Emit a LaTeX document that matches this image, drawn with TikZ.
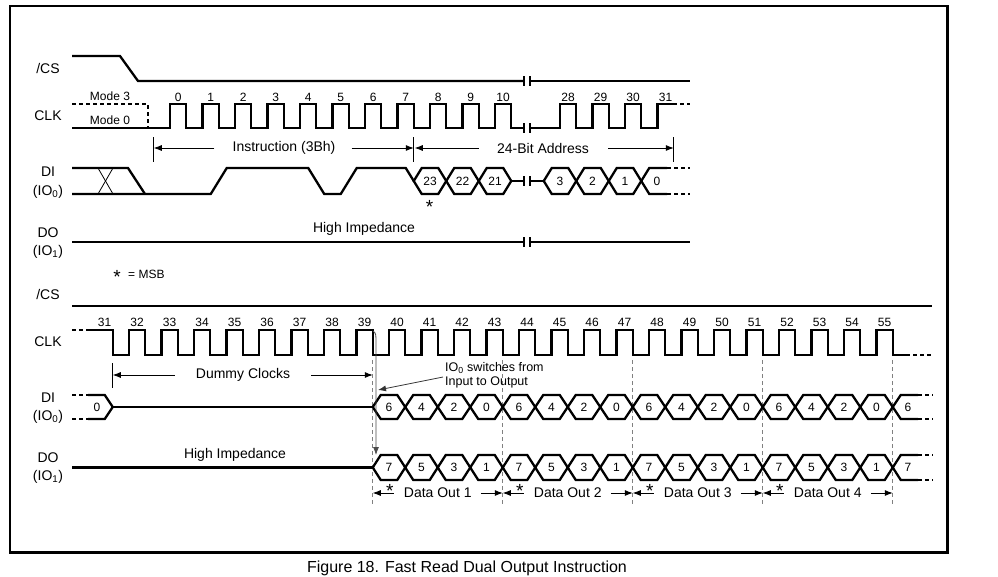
\documentclass[tikz,border=0pt]{standalone}
\usepackage{fontspec}
\setmainfont{Liberation Sans}
\usetikzlibrary{arrows.meta,calc}
\begin{document}
\begin{tikzpicture}[x=1pt,y=-1pt,
  sig/.style={line width=2.3pt},
  sigdash/.style={line width=2.3pt,dash pattern=on 4pt off 3pt},
  thinline/.style={line width=0.8pt},
  brk/.style={line width=1.1pt},
  tip/.style={-{Latex[length=8pt,width=6pt]}},
  guide/.style={line width=0.8pt,gray,dash pattern=on 4pt off 3pt},
  lbl/.style={inner sep=0pt,font=\fontsize{14}{16}\selectfont},
  num/.style={inner sep=0pt,font=\fontsize{12}{14}\selectfont},
  star/.style={inner sep=0pt,font=\fontsize{19}{20}\selectfont},
]
\useasboundingbox (0,0) rectangle (998,576);
\fill[white] (0,0) rectangle (998,576);
% frame
\draw[line width=2pt] (9.5,6) rectangle (947.5,552);
\draw[line width=3pt] (947.5,5) -- (947.5,552.5) -- (8.5,552.5);
\node[inner sep=0pt,font=\fontsize{16}{18}\selectfont] (cap) at (467,568) {Figure 18. Fast Read Dual Output Instruction};

% ---------- signal names ----------
\node[lbl] (cs1) at (48,68) {/CS};
\node[lbl] (clk1) at (48,116) {CLK};
\node[lbl] (di1) at (48,172) {DI};
\node[lbl] (io01) at (48,192) {(IO\textsubscript{0})};
\node[lbl] (do1) at (48,233) {DO};
\node[lbl] (io11) at (48,252) {(IO\textsubscript{1})};
\node[lbl] (cs2) at (48,294) {/CS};
\node[lbl] (clk2) at (48,342) {CLK};
\node[lbl] (di2) at (48,398) {DI};
\node[lbl] (io02) at (48,417) {(IO\textsubscript{0})};
\node[lbl] (do2) at (48,458) {DO};
\node[lbl] (io12) at (48,477) {(IO\textsubscript{1})};

% ---------- top: /CS ----------
\draw[sig] (72,56) -- (120,56) -- (138,81) -- (524,81);
\draw[sig] (530,81) -- (690,81);

% ---------- top: CLK ----------
\draw[sigdash] (72,104) -- (148,104) -- (148,128);
\node[num] (m3) at (110,96) {Mode 3};
\node[num] (m0) at (110,120) {Mode 0};
\draw[sig] (72,128) foreach \n in {0,...,10} { -- ({170+32.5*\n},128) -- ++(0,-24) -- ++(16.25,0) -- ++(0,24) } -- (524,128);
\draw[sig] (530,128) foreach \k in {28,29,30} { -- ({170+32.5*(\k-16)},128) -- ++(0,-24) -- ++(16.25,0) -- ++(0,24) } -- (657.5,128) -- (657.5,104) -- (673,104);
\draw[sigdash] (673,104) -- (690,104);
\foreach \n in {0,...,10} { \node[num] (tc\n) at ({178.1+32.5*\n},97) {\n}; }
\foreach \k in {28,29,30,31} { \node[num] (tc\k) at ({178.1+32.5*(\k-16)},97) {\k}; }

% ---------- top: arrows ----------
\coordinate (tk0) at (153.75,148);
\coordinate (tk1) at (413.75,148);
\coordinate (tk2) at (673.75,148);
\foreach \c in {tk0,tk1,tk2} { \draw[thinline] ($(\c)+(0,-11)$) -- ($(\c)+(0,14)$); }
\node[lbl] (instr) at (284,148) {Instruction (3Bh)};
\node[lbl] (addr) at (543,148) {24-Bit Address};
\draw[thinline,tip] ([xshift=-18pt]instr.west) -- (tk0);
\draw[thinline,tip] ([xshift=16pt]instr.east) -- (tk1);
\draw[thinline,tip] ([xshift=-18pt]addr.west) -- ([xshift=1pt]tk1);
\draw[thinline,tip] ([xshift=19pt]addr.east) -- (tk2);

% ---------- top: DI ----------
\draw[sig] (72,168) -- (128,168) -- (145,194);
\draw[sig] (72,194) -- (210.75,194) -- (226.75,168) -- (308.25,168) -- (324.25,194) -- (340.75,194) -- (356.75,168) -- (405.75,168) -- (413.75,181);
\draw[thinline] (98,168) -- (113,194);
\draw[thinline] (98,194) -- (113,168);
\foreach \a/\v in {413.75/23,446.25/22,478.75/21,543.75/3,576.25/2,608.75/1} {
  \draw[sig] (\a,181) -- ({\a+8},168) -- ({\a+24.5},168) -- ({\a+32.5},181) -- ({\a+24.5},194) -- ({\a+8},194) -- cycle;
  \node[num] (td\v) at ({\a+16.25},181) {\v};
}
\draw[sig] (511.25,181) -- (524,181);
\draw[sig] (530,181) -- (543.75,181);
\draw[sig] (667,168) -- (649.25,168) -- (641.25,181) -- (649.25,194) -- (667,194);
\draw[sigdash] (667,168) -- (690,168);
\draw[sigdash] (667,194) -- (690,194);
\node[num] (td0) at (657,181) {0};
\node[star] (ast0) at (429.5,207) {*};

% ---------- top: DO ----------
\draw[sig] (72,242) -- (524,242);
\draw[sig] (530,242) -- (690,242);
\node[lbl] (hiz1) at (364,229) {High Impedance};

% break marks
\foreach \y in {81,128,181,242} {
  \draw[brk] (524,\y-5) -- (524,\y+5);
  \draw[brk] (530,\y-5) -- (530,\y+5);
}

\node[star] (msbstar) at (117,277) {*};
\node[num,anchor=west] (msb) at (128,274) {= MSB};

% ---------- bottom: /CS ----------
\draw[sig] (72,306) -- (932,306);

% ---------- bottom: CLK ----------
\draw[sigdash] (72,330) -- (90,330);
\draw[sig] (90,330) -- (112.75,330) -- (112.75,355) foreach \k in {32,...,55} { -- ({129+32.5*(\k-32)},355) -- ++(0,-25) -- ++(16.25,0) -- ++(0,25) } -- (906,355);
\draw[sigdash] (906,355) -- (933,355);
\foreach \k in {31,...,55} { \node[num] (bc\k) at ({137.1+32.5*(\k-32)},322) {\k}; }

% ---------- bottom: Dummy clocks ----------
\coordinate (dk0) at (112.75,375);
\coordinate (dk1) at (372.75,375);
\draw[thinline] (112.75,363) -- (112.75,388);
\node[lbl] (dummy) at (243,375) {Dummy Clocks};
\draw[thinline,tip] ([xshift=-21pt]dummy.west) -- (dk0);
\draw[thinline,tip] ([xshift=21pt]dummy.east) -- (dk1);

% guides
\foreach \x in {372.75,502.75,632.75,762.75,892.75} { \draw[guide] (\x,360) -- (\x,506); }

% ---------- bottom: DI / DO ----------
\draw[sigdash] (72,395) -- (88,395);
\draw[sigdash] (72,419) -- (88,419);
\draw[sig] (88,395) -- (104.75,395) -- (112.75,407) -- (104.75,419) -- (88,419);
\node[num] (bi0) at (97,407) {0};
\draw[sig] (112.75,407) -- (372.75,407);
\draw[sig] (72,467.5) -- (372.75,467.5);
\foreach \i in {0,...,15} {
  \pgfmathsetmacro\a{372.75+32.5*\i}
  \pgfmathtruncatemacro\vi{6-2*mod(\i,4)}
  \pgfmathtruncatemacro\vo{7-2*mod(\i,4)}
  \draw[sig] (\a,407) -- ({\a+8},395) -- ({\a+24.5},395) -- ({\a+32.5},407) -- ({\a+24.5},419) -- ({\a+8},419) -- cycle;
  \draw[sig] (\a,467.5) -- ({\a+8},455) -- ({\a+24.5},455) -- ({\a+32.5},467.5) -- ({\a+24.5},480) -- ({\a+8},480) -- cycle;
  \node[num] (bdi\i) at ({\a+16.25},407) {\vi};
  \node[num] (bdo\i) at ({\a+16.25},467.5) {\vo};
}
\draw[sig] (918,395) -- (900.75,395) -- (892.75,407) -- (900.75,419) -- (918,419);
\draw[sig] (918,455) -- (900.75,455) -- (892.75,467.5) -- (900.75,480) -- (918,480);
\draw[sigdash] (918,395) -- (933,395);
\draw[sigdash] (918,419) -- (933,419);
\draw[sigdash] (918,455) -- (933,455);
\draw[sigdash] (918,480) -- (933,480);
\node[num] (bdiL) at (908,407) {6};
\node[num] (bdoL) at (908,467.5) {7};
\node[lbl] (hiz2) at (235,455) {High Impedance};

% IO0 switch annotation
\coordinate (sw0) at (372.75,331);
\coordinate (sw1) at (376,346);
\coordinate (sw2) at (376,455);
\draw[thinline,gray!60!black,tip] (sw0) .. controls (376,333) .. (sw1) -- (sw2);
\node[inner sep=0pt,font=\fontsize{12.5}{14}\selectfont,align=left,anchor=west] (swtxt) at (445,375) {IO\textsubscript{0} switches from\\Input to Output};
\coordinate (swtip) at (378,390);
\draw[thinline,black!80,tip] ([xshift=-2pt,yshift=-2pt]swtxt.west) -- (swtip);

% Data Out arrows
\foreach \k in {1,...,4} {
  \pgfmathsetmacro\a{372.75+130*(\k-1)}
  \coordinate (ga\k) at (\a,493);
  \coordinate (gb\k) at ({\a+130},493);
  \node[lbl] (dout\k) at ({\a+65},493) {Data Out \k};
  \node[star] (das\k) at ({\a+17},491) {*};
  \draw[thinline,tip] ([xshift=-10pt]dout\k.west) -- (ga\k);
  \draw[thinline,tip] ([xshift=9pt]dout\k.east) -- (gb\k);
}
\end{tikzpicture}
\end{document}
